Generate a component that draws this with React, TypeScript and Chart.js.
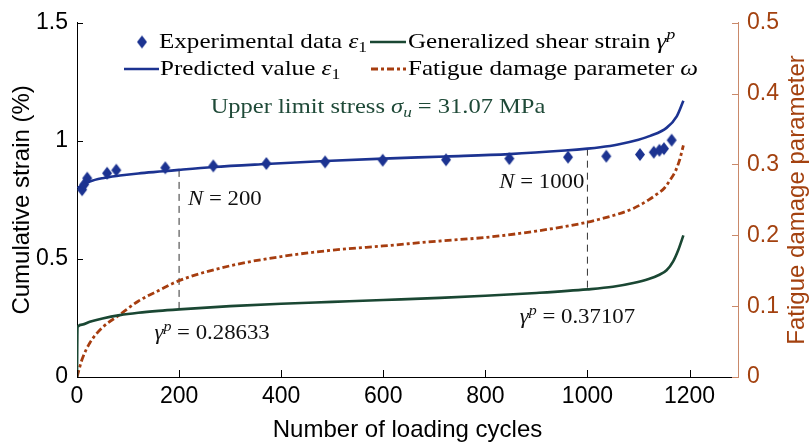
import React, { useEffect, useRef } from "react";
import { Chart, registerables } from "chart.js";

Chart.register(...registerables);

// ---------------- data ----------------
const xMax = 1295;
const xTickStep = 200;
const strainMax = 1.5;
const strainStep = 0.5;
const damageMax = 0.5;
const damageStep = 0.1;

const expN = [10, 14, 20, 59, 77, 173, 267, 371, 486, 599, 723, 847, 962, 1037, 1103, 1130, 1141, 1150, 1165];
const expStrain = [0.793, 0.815, 0.842, 0.863, 0.876, 0.886, 0.894, 0.904, 0.911, 0.918, 0.92, 0.925, 0.931, 0.935, 0.942, 0.952, 0.96, 0.967, 1.003];

const predN = [1, 10, 25, 50, 84, 120, 170, 200, 267, 370, 486, 600, 723, 847, 956, 1000, 1025, 1060, 1100, 1123, 1155, 1175, 1188];
const predStrain = [0.8, 0.812, 0.828, 0.842, 0.853, 0.862, 0.871, 0.877, 0.889, 0.902, 0.915, 0.925, 0.934, 0.944, 0.959, 0.967, 0.973, 0.985, 1.005, 1.021, 1.055, 1.104, 1.17];

const shearN = [0, 1, 10, 25, 50, 84, 120, 160, 200, 300, 400, 500, 600, 711, 800, 900, 1000, 1050, 1090, 1120, 1140, 1155, 1168, 1178, 1188];
const shearStrain = [0, 0.211, 0.222, 0.234, 0.248, 0.262, 0.272, 0.28, 0.28633, 0.3, 0.31, 0.318, 0.326, 0.335, 0.344, 0.356, 0.37107, 0.382, 0.398, 0.415, 0.432, 0.452, 0.49, 0.538, 0.6];

const damageN = [0, 5, 10, 25, 50, 82, 120, 160, 200, 300, 400, 500, 600, 711, 800, 900, 1000, 1025, 1060, 1090, 1120, 1136, 1150, 1162, 1172, 1180, 1188];
const damageOmega = [0, 0.013, 0.025, 0.048, 0.07, 0.087, 0.107, 0.122, 0.136, 0.157, 0.17, 0.179, 0.185, 0.192, 0.197, 0.206, 0.2185, 0.223, 0.23, 0.238, 0.25, 0.258, 0.266, 0.278, 0.29, 0.305, 0.327];

const markN = [200, 1000];
const markTop = [0.877, 0.967];
const markBottom = [0.28633, 0.37107];
const markGamma = ["0.28633", "0.37107"];
const stressValue = "31.07";

// ---------------- styles ----------------
const BLUE = "#1c3391";
const GREEN = "#1a4733";
const ORANGE = "#a63d0f";
const RIGHT_TEXT = "#a3410f";
const RIGHT_LINE = "#c9896a";
const NOTE_GREEN = "#1f4a38";
const SANS = '"Liberation Sans", Arial, Helvetica, sans-serif';
const SERIF = '"Liberation Serif", "Times New Roman", serif';
const HSCALE = 1.14;
const DASHDOT = [7, 3, 3, 3];

type Seg = { t: string; it?: boolean; sub?: boolean; sup?: boolean };

function segFont(s: Seg, size: number) {
  const sz = s.sub || s.sup ? size * 0.7 : size;
  return `${s.it ? "italic " : ""}${sz}px ${SERIF}`;
}

function drawRich(
  ctx: CanvasRenderingContext2D,
  segs: Seg[],
  x: number,
  baseline: number,
  size: number,
  color: string,
  align: "left" | "center" | "right" = "left"
) {
  let total = 0;
  const widths = segs.map((s) => {
    ctx.font = segFont(s, size);
    const w = ctx.measureText(s.t).width;
    total += w;
    return w;
  });
  const shown = total * HSCALE;
  const startX = align === "left" ? x : align === "center" ? x - shown / 2 : x - shown;
  ctx.save();
  ctx.translate(startX, baseline);
  ctx.scale(HSCALE, 1);
  ctx.fillStyle = color;
  ctx.textAlign = "left";
  ctx.textBaseline = "alphabetic";
  let cx = 0;
  segs.forEach((s, i) => {
    ctx.font = segFont(s, size);
    const dy = s.sub ? size * 0.2 : s.sup ? -size * 0.4 : 0;
    ctx.fillText(s.t, cx, dy);
    cx += widths[i];
  });
  ctx.restore();
}

function makeDiamond(color: string, hw: number, hh: number) {
  const c = document.createElement("canvas");
  c.width = Math.ceil(hw * 2 + 2);
  c.height = Math.ceil(hh * 2 + 2);
  const g = c.getContext("2d")!;
  const cx = c.width / 2;
  const cy = c.height / 2;
  g.fillStyle = color;
  g.beginPath();
  g.moveTo(cx, cy - hh);
  g.lineTo(cx + hw, cy);
  g.lineTo(cx, cy + hh);
  g.lineTo(cx - hw, cy);
  g.closePath();
  g.fill();
  return c;
}

function makeDecorPlugin(diamond: HTMLCanvasElement) {
  return {
    id: "decor",
    afterDatasetsDraw(chart: any) {
      const ctx: CanvasRenderingContext2D = chart.ctx;
      const xs = chart.scales.x;
      const ys = chart.scales.y;
      const y1 = chart.scales.y1;
      const a = chart.chartArea;
      ctx.save();

      // inward tick marks
      ctx.lineWidth = 1;
      ctx.strokeStyle = "#000";
      ctx.beginPath();
      xs.ticks.forEach((t: any) => {
        const px = Math.round(xs.getPixelForValue(t.value)) + 0.5;
        ctx.moveTo(px, a.bottom);
        ctx.lineTo(px, a.bottom - 7);
      });
      ys.ticks.forEach((t: any) => {
        const py = Math.round(ys.getPixelForValue(t.value)) + 0.5;
        ctx.moveTo(a.left, py);
        ctx.lineTo(a.left + 6, py);
      });
      ctx.stroke();
      ctx.strokeStyle = RIGHT_LINE;
      ctx.beginPath();
      y1.ticks.forEach((t: any) => {
        const py = Math.round(y1.getPixelForValue(t.value)) + 0.5;
        ctx.moveTo(a.right, py);
        ctx.lineTo(a.right - 6, py);
      });
      ctx.stroke();

      // legend
      const r1 = 48;
      const r2 = 75;
      ctx.drawImage(diamond, 142 - diamond.width / 2, r1 - 6 - diamond.height / 2);
      drawRich(ctx, [{ t: "Experimental data " }, { t: "ε", it: true }, { t: "1", sub: true }], 159, r1, 22, "#000");
      ctx.lineWidth = 2.5;
      ctx.strokeStyle = GREEN;
      ctx.beginPath();
      ctx.moveTo(370, r1 - 6);
      ctx.lineTo(406, r1 - 6);
      ctx.stroke();
      drawRich(
        ctx,
        [{ t: "Generalized shear strain " }, { t: "γ", it: true }, { t: "p", it: true, sup: true }],
        408,
        r1,
        22,
        "#000"
      );
      ctx.strokeStyle = BLUE;
      ctx.beginPath();
      ctx.moveTo(124, r2 - 6);
      ctx.lineTo(159, r2 - 6);
      ctx.stroke();
      drawRich(ctx, [{ t: "Predicted value " }, { t: "ε", it: true }, { t: "1", sub: true }], 160, r2, 22, "#000");
      ctx.strokeStyle = ORANGE;
      ctx.lineWidth = 2.8;
      ctx.setLineDash(DASHDOT);
      ctx.beginPath();
      ctx.moveTo(371, r2 - 6);
      ctx.lineTo(406, r2 - 6);
      ctx.stroke();
      ctx.setLineDash([]);
      drawRich(ctx, [{ t: "Fatigue damage parameter " }, { t: "ω", it: true }], 408, r2, 22, "#000");

      // condition note
      drawRich(
        ctx,
        [
          { t: "Upper limit stress " },
          { t: "σ", it: true },
          { t: "u", it: true, sub: true },
          { t: " = " + stressValue + " MPa" },
        ],
        378,
        113,
        21.5,
        NOTE_GREEN,
        "center"
      );

      // N annotations
      const p200 = xs.getPixelForValue(markN[0]);
      const p1000 = xs.getPixelForValue(markN[1]);
      drawRich(ctx, [{ t: "N", it: true }, { t: " = " + markN[0] }], p200 + 9, 205, 20, "#111");
      drawRich(ctx, [{ t: "N", it: true }, { t: " = " + markN[1] }], p1000 - 3, 188, 20, "#111", "right");
      drawRich(
        ctx,
        [{ t: "γ", it: true }, { t: "p", it: true, sup: true }, { t: " = " + markGamma[0] }],
        p200 + 33,
        ys.getPixelForValue(markBottom[0]) + 30,
        20,
        "#111",
        "center"
      );
      drawRich(
        ctx,
        [{ t: "γ", it: true }, { t: "p", it: true, sup: true }, { t: " = " + markGamma[1] }],
        p1000 - 10,
        ys.getPixelForValue(markBottom[1]) + 34,
        20,
        "#111",
        "center"
      );

      // right axis title (reads bottom to top)
      ctx.save();
      ctx.translate(797, (a.top + a.bottom) / 2);
      ctx.rotate(-Math.PI / 2);
      ctx.font = `24px ${SANS}`;
      ctx.fillStyle = RIGHT_TEXT;
      ctx.textAlign = "center";
      ctx.textBaseline = "middle";
      ctx.fillText("Fatigue damage parameter", 0, 0);
      ctx.restore();

      ctx.restore();
    },
  };
}

export default function App() {
  const ref = useRef<HTMLCanvasElement | null>(null);

  useEffect(() => {
    document.body.style.margin = "0";
    const canvas = ref.current!;
    const diamond = makeDiamond(BLUE, 5, 6.5);
    const fmt = (v: any) => String(Math.round(Number(v) * 1000) / 1000);

    const chart = new Chart(canvas, {
      type: "line",
      data: {
        datasets: [
          {
            label: "Experimental data ε1",
            data: expN.map((n, i) => ({ x: n, y: expStrain[i] })),
            showLine: false,
            pointStyle: diamond as any,
            pointRadius: 6,
            borderColor: BLUE,
            backgroundColor: BLUE,
            yAxisID: "y",
          },
          {
            label: "Predicted value ε1",
            data: predN.map((n, i) => ({ x: n, y: predStrain[i] })),
            borderColor: BLUE,
            borderWidth: 2.6,
            pointRadius: 0,
            cubicInterpolationMode: "monotone",
            yAxisID: "y",
          },
          {
            label: "Generalized shear strain γp",
            data: shearN.map((n, i) => ({ x: n, y: shearStrain[i] })),
            borderColor: GREEN,
            borderWidth: 2.6,
            pointRadius: 0,
            cubicInterpolationMode: "monotone",
            yAxisID: "y",
          },
          {
            label: "Fatigue damage parameter ω",
            data: damageN.map((n, i) => ({ x: n, y: damageOmega[i] })),
            borderColor: ORANGE,
            borderWidth: 2.8,
            borderDash: DASHDOT,
            pointRadius: 0,
            cubicInterpolationMode: "monotone",
            yAxisID: "y1",
          },
          ...markN.map((n, i) => ({
            label: "N = " + n,
            data: [
              { x: n, y: markTop[i] },
              { x: n, y: markBottom[i] },
            ],
            borderColor: "#333",
            borderWidth: 1,
            borderDash: [7, 5],
            pointRadius: 0,
            yAxisID: "y",
          })),
        ],
      },
      options: {
        animation: false,
        responsive: false,
        events: [],
        layout: { padding: { top: 14, left: 0, right: 0, bottom: 0 } },
        plugins: { legend: { display: false }, tooltip: { enabled: false } },
        scales: {
          x: {
            type: "linear",
            position: "bottom",
            min: 0,
            max: xMax,
            afterFit: (s: any) => {
              s.height = 71;
            },
            ticks: {
              stepSize: xTickStep,
              includeBounds: false,
              padding: 6,
              color: "#000",
              font: { family: SANS, size: 23 },
              callback: fmt,
            },
            grid: { display: true, drawOnChartArea: false, drawTicks: false },
            border: { display: true, color: "#000", width: 1 },
            title: {
              display: true,
              text: "Number of loading cycles",
              color: "#000",
              font: { family: SANS, size: 24 },
              padding: { top: 0, bottom: 3 },
            },
          },
          y: {
            type: "linear",
            position: "left",
            min: 0,
            max: strainMax,
            afterFit: (s: any) => {
              s.width = 77;
            },
            ticks: {
              stepSize: strainStep,
              padding: 9,
              color: "#000",
              font: { family: SANS, size: 23 },
              callback: fmt,
            },
            grid: { display: true, drawOnChartArea: false, drawTicks: false },
            border: { display: true, color: "#000", width: 1 },
            title: {
              display: true,
              text: "Cumulative strain (%)",
              color: "#000",
              font: { family: SANS, size: 24 },
              padding: { top: 8, bottom: 0 },
            },
          },
          y1: {
            type: "linear",
            position: "right",
            min: 0,
            max: damageMax,
            afterFit: (s: any) => {
              s.width = 74;
            },
            ticks: {
              stepSize: damageStep,
              padding: 9,
              color: RIGHT_TEXT,
              font: { family: SANS, size: 23 },
              callback: fmt,
            },
            grid: { display: true, drawOnChartArea: false, drawTicks: false },
            border: { display: true, color: RIGHT_LINE, width: 1 },
          },
        },
      },
      plugins: [makeDecorPlugin(diamond)],
    } as any);

    return () => chart.destroy();
  }, []);

  return (
    <canvas
      ref={ref}
      width={812}
      height={448}
      style={{ display: "block", width: 812, height: 448 }}
    />
  );
}
